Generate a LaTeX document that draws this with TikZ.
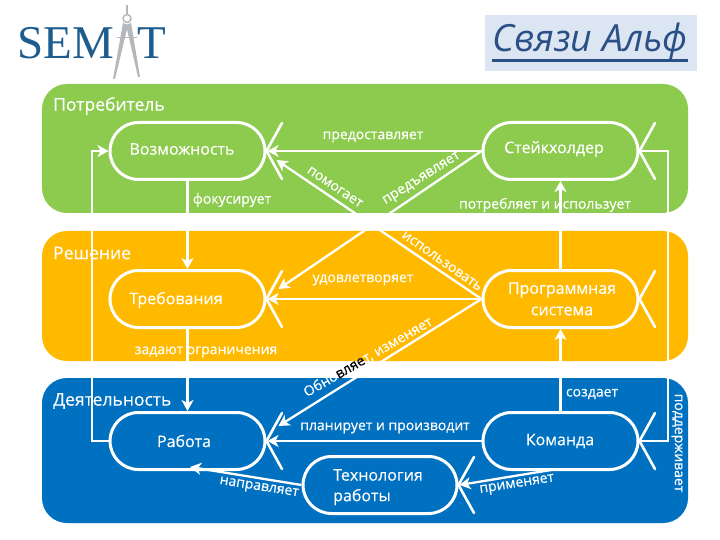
\documentclass[tikz,border=0pt]{standalone}
\usepackage{fontspec}
\setmainfont{Open Sans}
\newfontfamily\lfont[FakeBold=0.35]{Open Sans}
\newfontfamily\logofont{Liberation Serif}
\usetikzlibrary{arrows.meta,shapes.misc}
\definecolor{bgreen}{HTML}{8CCB4E}
\definecolor{borange}{HTML}{FFBA00}
\definecolor{bblue}{HTML}{0070C0}
\definecolor{tboxc}{HTML}{DCE6F2}
\definecolor{tinkc}{HTML}{2B5086}
\definecolor{logoc}{HTML}{1D5C8E}
\definecolor{compc}{HTML}{B4B8BC}
\tikzset{
  band/.style={rounded corners=25pt,minimum width=646pt,inner sep=0pt,outer sep=0pt},
  pill/.style={rounded rectangle,draw=white,line width=3pt,minimum width=155pt,minimum height=57pt,inner sep=0pt},
  ptext/.style={text=white,inner sep=0pt,font=\lfont\fontsize{16}{21.5}\selectfont},
  lnk/.style={draw=white,line width=2.3pt,-{Stealth[inset=3pt,length=11pt,width=12pt]}},
  plain/.style={draw=white,line width=2.3pt},
  stub/.style={draw=white,line width=2.6pt},
  lab/.style={text=white,inner sep=0pt,font=\lfont\fontsize{14}{16}\selectfont},
  bandt/.style={text=white,inner sep=0pt,anchor=west,font=\lfont\fontsize{17.5}{20}\selectfont},
}
\begin{document}
\begin{tikzpicture}[x=1pt,y=-1pt]
\useasboundingbox (0,0) rectangle (720,540);
% logo
\node[inner sep=0pt,text=logoc,anchor=west,font=\logofont\fontsize{47}{50}\selectfont] (lsem) at (17,43) {SEM};
\node[inner sep=0pt,text=logoc,anchor=west,font=\logofont\fontsize{47}{50}\selectfont] (lt) at (137,43) {T};
\fill[compc] (126,5)--(128,5)--(128,14)--(126,14)--cycle;
\draw[compc,line width=1.5pt] (127,18.5) circle (4pt);
\fill[compc] (123,23)--(128,25)--(115,79)--(113,79)--cycle;
\fill[compc] (126,25)--(131,23)--(140,77)--(138,77)--cycle;
\draw[compc,line width=1pt] (117,38)--(137,38);
% title
\node[fill=tboxc,minimum width=212pt,minimum height=56pt,inner sep=0pt] (tbox) at (590.5,43) {};
\node[text=tinkc,inner sep=0pt,font=\itshape\fontsize{37.5}{42}\selectfont] (ttl) at (590,42) {Связи Альф};
\draw[tinkc,line width=3pt] (492,60.5)--(688,60.5);
% bands
\node[band,fill=bgreen,minimum height=129pt] (b1) at (365,148.5) {};
\node[band,fill=borange,minimum height=130pt] (b2) at (365,296) {};
\node[band,fill=bblue,minimum height=145pt] (b3) at (365,450.5) {};
% pills
\node[pill] (voz) at (187.5,151) {};
\node[pill] (ste) at (560.5,151) {};
\node[pill] (tre) at (187.5,299) {};
\node[pill] (pro) at (560.5,299) {};
\node[pill] (rab) at (187.5,441) {};
\node[pill] (kom) at (560.5,441) {};
\node[pill,minimum width=154pt] (teh) at (380,485) {};
\node[ptext] (vozt) at (182,149) {Возможность};
\node[ptext] (stet) at (554,149) {Стейкхолдер};
\node[ptext] (tret) at (176,300) {Требования};
\node[ptext] (prot1) at (562,290) {Программная};
\node[ptext] (prot2) at (562,311) {система};
\node[ptext] (rabt) at (184,441) {Работа};
\node[ptext] (komt) at (560,441) {Команда};
\node[ptext] (teht1) at (378,475) {Технология};
\node[ptext,anchor=west] (teht2) at (333,497) {работы};
% stubs
\foreach \n in {voz,ste,tre,pro,rab,kom,teh}{
  \draw[stub,line cap=round] ([shift={(15.5,-28)}]\n.east)--(\n.east)--([shift={(15.5,28)}]\n.east);
  \coordinate (\n X) at ([shift={(1,0)}]\n.east);
}
% connectors
\coordinate (vu) at ([shift={(10,9)}]voz.east);
\coordinate (tu) at ([shift={(12,-10)}]tre.east);
\coordinate (ru) at ([shift={(12,-15)}]rab.east);
\draw[lnk] (ste.west)--(vozX);
\draw[lnk] (pro.west)--(treX);
\draw[lnk] (kom.west)--(rabX);
\draw[lnk] (pro.west)--(vu);
\draw[lnk] (ste.west)--(tu);
\draw[lnk] (pro.west)--(ru);
\draw[lnk] (voz.south)--(tre.north);
\draw[lnk] (tre.south)--(rab.north);
\draw[lnk] (kom.north)--(pro.south);
\draw[lnk] (pro.north)--(ste.south);
\coordinate (ll1) at (92,441);
\coordinate (ll2) at (92,151);
\draw[lnk] (rab.west)--(ll1)--(ll2)--(voz.west);
\coordinate (rr1) at (668,151);
\coordinate (rr2) at (668,441);
\draw[plain] (steX)--(rr1)--(rr2)--(komX);
\coordinate (rtip) at (190,467);
\coordinate (ktail) at (557,469);
\draw[lnk] (teh.west)--(rtip);
\draw[lnk] (ktail)--(tehX);
% band titles
\node[bandt] (t1) at (53,106) {Потребитель};
\node[bandt] (t2) at (53,253) {Решение};
\node[bandt] (t3) at (53,401) {Деятельность};
% labels
\node[lab] (l1) at (373,137) {предоставляет};
\node[lab] (l2) at (232,200) {фокусирует};
\node[lab] (l3) at (545,205) {потребляет и использует};
\node[lab,rotate=-34] (l4) at (335,187) {помогает};
\node[lab,rotate=32] (l5) at (422,179) {предъявляет};
\node[lab,rotate=-35] (l6) at (442,261) {использовать};
\node[lab] (l7) at (363,280) {удовлетворяет};
\node[lab] (l8) at (206,352) {задают ограничения};
\node[lab,rotate=30] (l9) at (368,357) {Обно\textcolor{black}{вляе}т, изменяет};
\node[lab] (l10) at (592,394) {создает};
\node[lab] (l11) at (385,428) {планирует и производит};
\node[lab,rotate=-9] (l12) at (259,488) {направляет};
\node[lab,rotate=9] (l13) at (517,485) {применяет};
\node[lab,rotate=-90] (l14) at (677,443) {поддерживает};
\end{tikzpicture}
\end{document}
